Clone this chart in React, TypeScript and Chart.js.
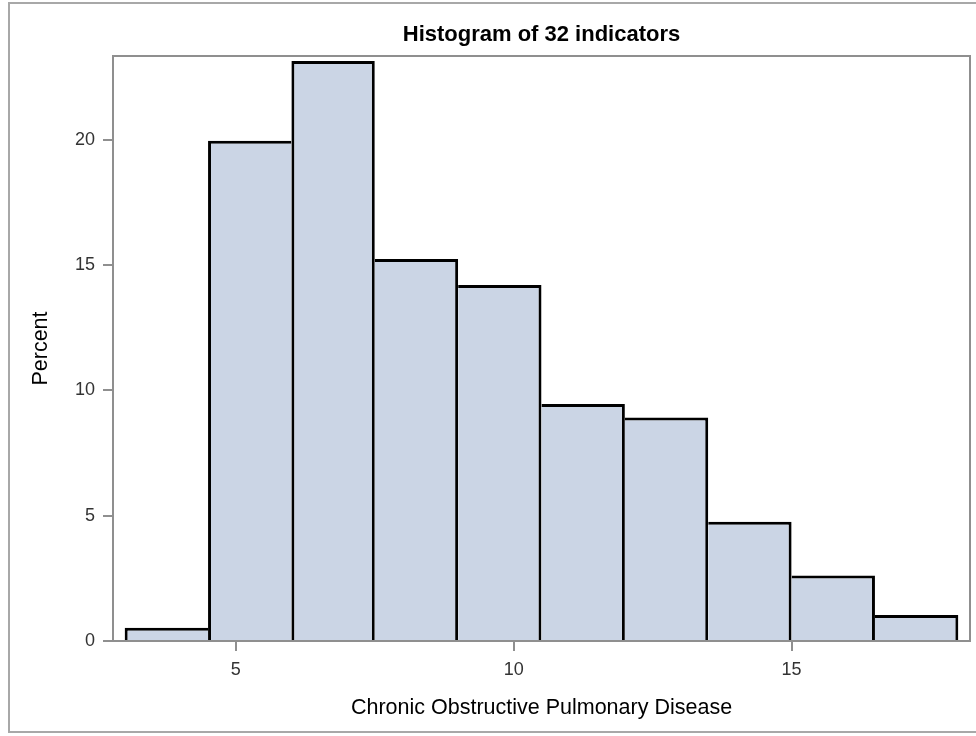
import React, { useEffect, useRef } from "react";
import { Chart, registerables } from "chart.js";

Chart.register(...registerables);

// Histogram bins (midpoints, bin width 1.5) and percentages
const binMidpoints = [3.75, 5.25, 6.75, 8.25, 9.75, 11.25, 12.75, 14.25, 15.75, 17.25];
const percent = [0.53, 19.97, 23.15, 15.25, 14.21, 9.46, 8.92, 4.76, 2.61, 1.04];
const xTicks = [5, 10, 15];
const yTicks = [0, 5, 10, 15, 20];

const titleText = "Histogram of 32 indicators";
const xTitle = "Chronic Obstructive Pulmonary Disease";
const yTitle = "Percent";

const FONT = "'Liberation Sans', Arial, sans-serif";
const EDGE = 3;

const framePlugin = {
  id: "frame",
  afterDatasetsDraw(chart: any) {
    const { ctx, chartArea } = chart;
    ctx.save();
    ctx.strokeStyle = "#8f8f8f";
    ctx.lineWidth = 2;
    ctx.strokeRect(chartArea.left, chartArea.top, chartArea.right - chartArea.left, chartArea.bottom - chartArea.top);
    ctx.restore();
  },
};

export default function App() {
  const ref = useRef<HTMLCanvasElement | null>(null);

  useEffect(() => {
    if (!ref.current) return;
    const chart = new Chart(ref.current, {
      type: "bar",
      data: {
        datasets: [
          {
            data: binMidpoints.map((x, i) => ({ x, y: percent[i] })),
            backgroundColor: "#cbd5e5",
            borderColor: "#000000",
            borderSkipped: false,
            inflateAmount: 0,
            borderWidth: (ctx: any) => {
              const i = ctx.dataIndex;
              if (i === undefined) return EDGE;
              const v = percent[i];
              const prev = i > 0 ? percent[i - 1] : -1;
              const next = i < percent.length - 1 ? percent[i + 1] : -1;
              return { top: EDGE, bottom: 0, left: prev <= v ? EDGE : 0, right: next < v ? EDGE : 0 };
            },
            barPercentage: 1,
            categoryPercentage: 1,
          } as any,
        ],
      },
      options: {
        animation: false,
        responsive: false,
        layout: { padding: { left: 0, right: 6, top: 0, bottom: 0 } },
        plugins: {
          legend: { display: false },
          tooltip: { enabled: false },
          title: { display: false },
        },
        scales: {
          x: {
            type: "linear",
            min: 2.79,
            max: 18.21,
            offset: false,
            afterBuildTicks: (s: any) => {
              s.ticks = xTicks.map((v) => ({ value: v }));
            },
            afterFit: (s: any) => {
              s.height = 95;
            },
            grid: { display: true, drawOnChartArea: false, drawTicks: true, tickLength: 10, color: "#8f8f8f", lineWidth: 2, offset: false },
            border: { display: false },
            ticks: { color: "#333333", font: { family: FONT, size: 18 }, padding: 8, maxRotation: 0 },
            title: {
              display: true,
              text: xTitle,
              color: "#000000",
              font: { family: FONT, size: 21.5 },
              padding: { top: 0, bottom: 15 },
            },
          },
          xTop: {
            type: "linear",
            position: "top",
            min: 2.79,
            max: 18.21,
            afterFit: (s: any) => {
              s.height = 56;
            },
            grid: { display: false, drawTicks: false },
            border: { display: false },
            ticks: { display: false },
            title: {
              display: true,
              text: titleText,
              color: "#000000",
              font: { family: FONT, size: 22, weight: "bold" },
              padding: { top: 22, bottom: 0 },
            },
          },
          y: {
            type: "linear",
            min: 0,
            max: 23.35,
            afterBuildTicks: (s: any) => {
              s.ticks = yTicks.map((v) => ({ value: v }));
            },
            afterFit: (s: any) => {
              s.width = 113;
            },
            grid: { display: true, drawOnChartArea: false, drawTicks: true, tickLength: 10, color: "#8f8f8f", lineWidth: 2 },
            border: { display: false },
            ticks: { color: "#333333", font: { family: FONT, size: 18 }, padding: 8 },
            title: {
              display: true,
              text: yTitle,
              color: "#000000",
              font: { family: FONT, size: 21.5 },
              padding: { top: 28, bottom: 0 },
            },
          },
        },
      } as any,
      plugins: [framePlugin],
    });
    return () => chart.destroy();
  }, []);

  return (
    <div style={{ position: "absolute", left: 0, top: 0, width: 976, height: 736, overflow: "hidden", background: "#ffffff" }}>
      <canvas ref={ref} width={976} height={736} style={{ position: "absolute", left: 0, top: 0, width: 976, height: 736 }} />
      <div
        style={{
          position: "absolute",
          left: 8,
          top: 2,
          width: 968,
          height: 731,
          borderTop: "2px solid #a8a8a8",
          borderLeft: "2px solid #a8a8a8",
          borderBottom: "2px solid #a8a8a8",
          boxSizing: "border-box",
          pointerEvents: "none",
        }}
      />
    </div>
  );
}
